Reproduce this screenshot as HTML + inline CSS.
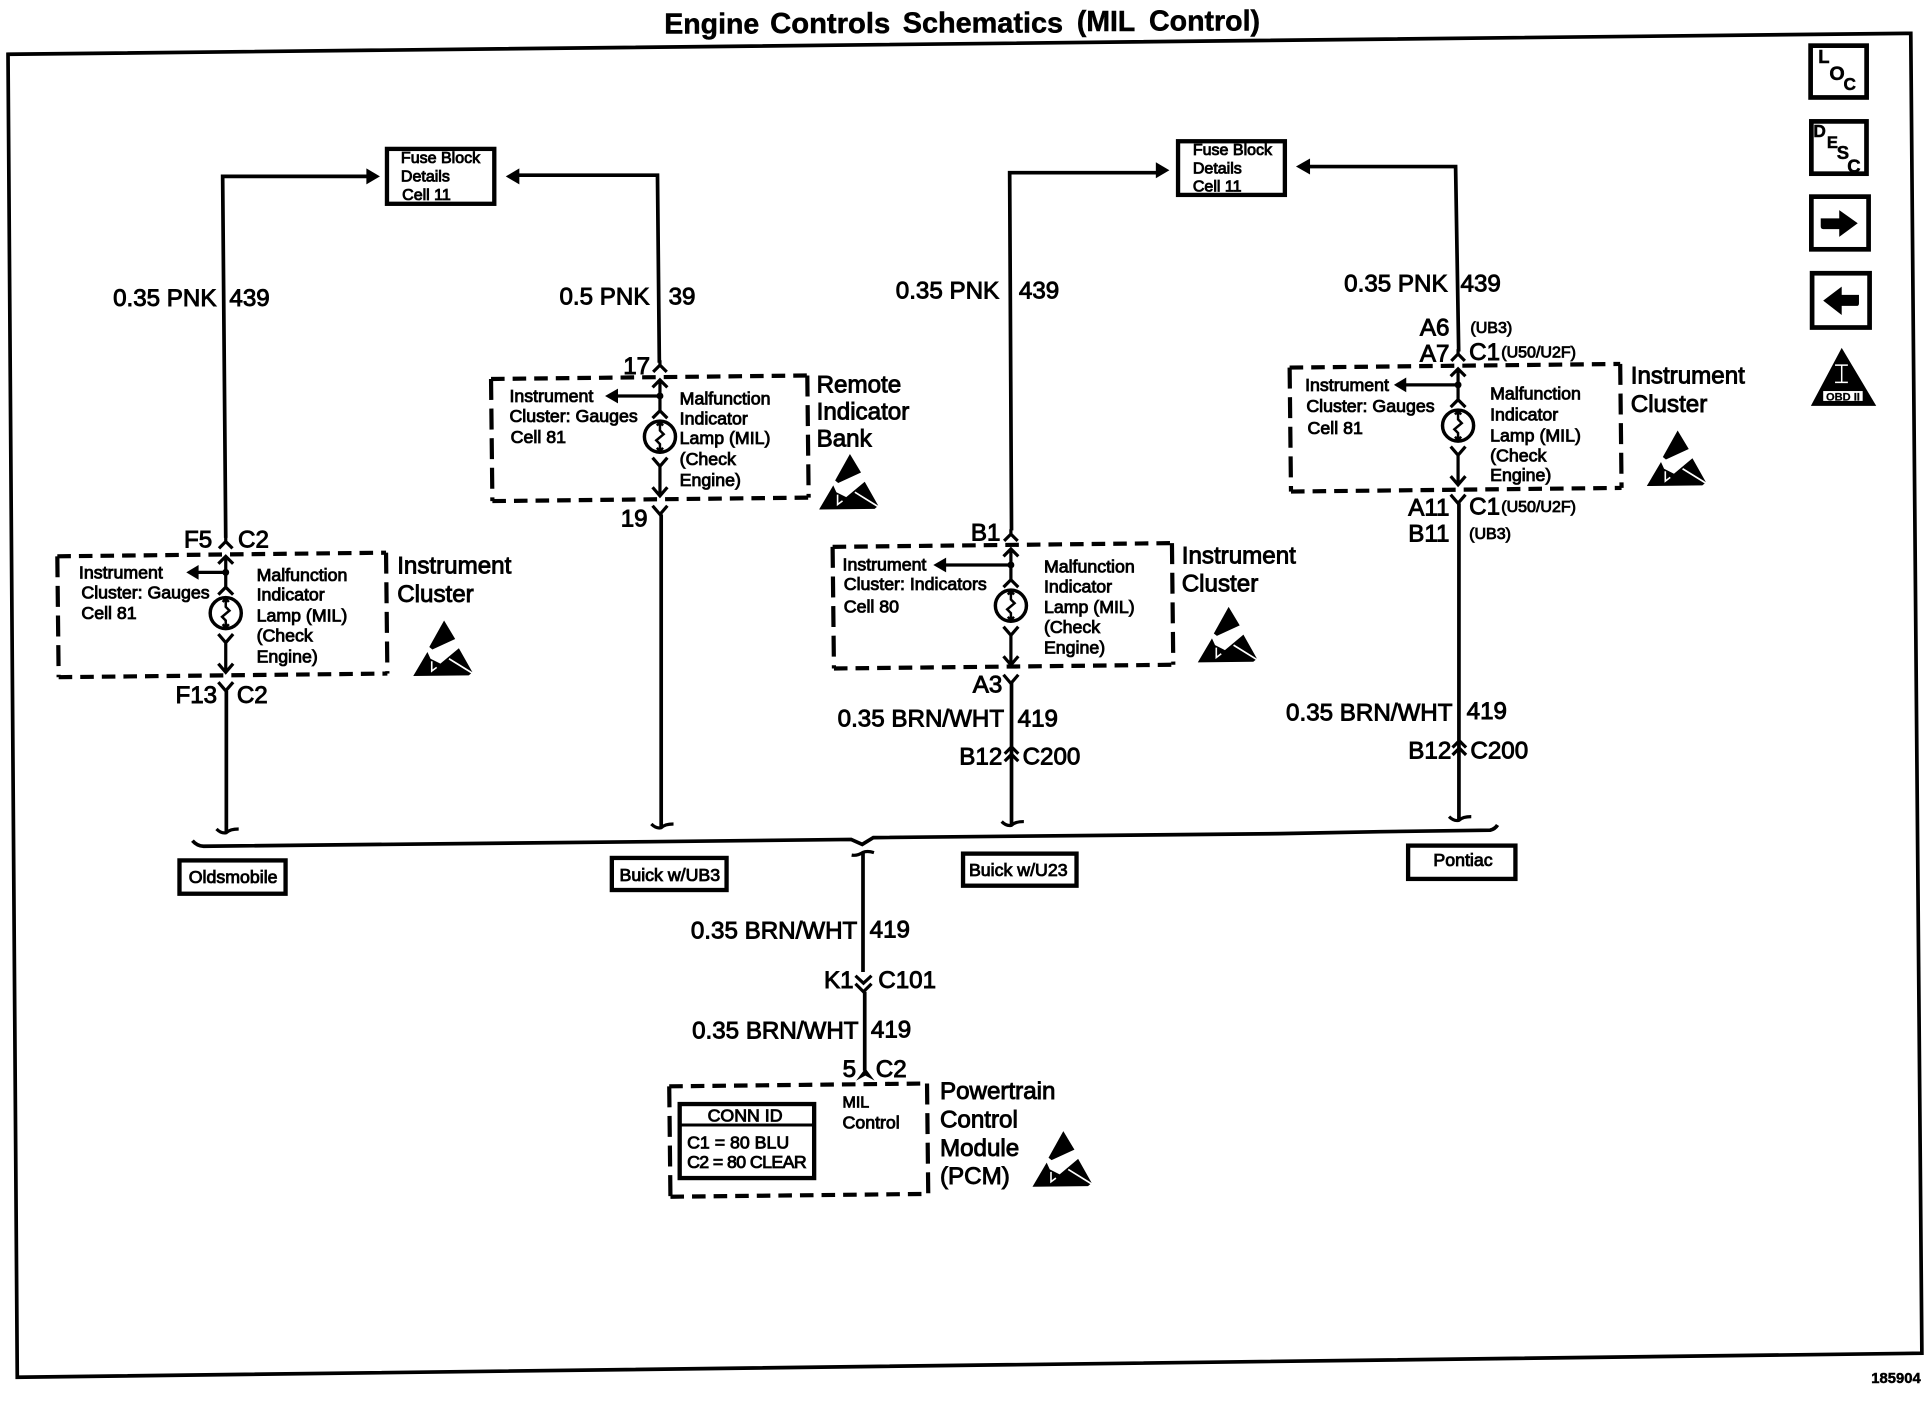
<!DOCTYPE html>
<html><head><meta charset="utf-8"><style>
html,body{margin:0;padding:0;background:#fff}
svg{display:block}
text{font-family:"Liberation Sans",sans-serif;fill:#000;stroke:#000;stroke-width:.7}
.l{font-size:19.6px;stroke-width:.75}.s{font-size:14.4px}.f{font-size:13px}.t{font-size:13px}
.e{text-anchor:end}.m{text-anchor:middle}
.i{font-weight:700;stroke-width:.4}
.w{fill:none;stroke:#000;stroke-width:3}
.c{fill:none;stroke:#000;stroke-width:2.6}
.dh{fill:none;stroke:#000;stroke-width:3.4;stroke-dasharray:11 6.5}
.dv{fill:none;stroke:#000;stroke-width:3.4;stroke-dasharray:17 7}
.b{fill:#fff;stroke:#000;stroke-width:3.5}
</style></head><body>
<svg width="1932" height="1408" viewBox="0 0 1566.2 1141.4" xmlns="http://www.w3.org/2000/svg">
<defs>
<g id="core">
<path class="c" d="M-5.5,-4.5L0,-10L5.5,-4.5M0,-10V-14"/>
<path class="c" d="M-6,8L0,2L6,8M0,2V27M-6,33L0,27L6,33"/>
<circle cx="0" cy="15" r="2.8"/>
<circle cx="0" cy="48" r="12.6" fill="none" stroke="#000" stroke-width="2.8"/>
<path fill="none" stroke="#000" stroke-width="2" d="M0,36V43L3,46L-3,51L0,54V60M-2.5,39L0,36L2.5,39M-2.5,57L0,60L2.5,57"/>
<path class="c" d="M-6,65L0,72L6,65M0,72V96M-6,89L0,96L6,89"/>
<path class="c" d="M-6,104L0,111L6,104"/>
</g>
<g id="esd">
<path d="M0,0L9,15L-9.5,23.5L-12,21.5Z"/>
<path d="M-25,45L-13.5,25.5L-11,31L-3,35L12,22.5L23,42L20,44.5Z"/>
<path d="M4,31L25,44" stroke="#fff" stroke-width="1.4"/>
<path d="M-10,33L-10,41L-6,38" stroke="#fff" stroke-width="1.3" fill="none"/>
</g>
<path id="hook" class="c" d="M-8,-3Q-4,1 0,0Q3,-3 10,-3"/>
</defs>

<!-- frame -->
<path fill="none" stroke="#000" stroke-width="3" d="M6.5,44L1549,27L1558,1097L14,1116.5Z"/>
<text x="538.5" y="27.3" font-size="23" class="i" textLength="77" lengthAdjust="spacingAndGlyphs">Engine</text>
<text x="624.3" y="26.9" font-size="23" class="i" textLength="97.4" lengthAdjust="spacingAndGlyphs">Controls</text>
<text x="731.8" y="26.2" font-size="23" class="i" textLength="130" lengthAdjust="spacingAndGlyphs">Schematics</text>
<text x="873" y="25.3" font-size="23" class="i" textLength="47.3" lengthAdjust="spacingAndGlyphs">(MIL</text>
<text x="931.5" y="24.9" font-size="23" class="i" textLength="90" lengthAdjust="spacingAndGlyphs">Control)</text>

<!-- fuse blocks -->
<rect x="313.7" y="120.7" width="87" height="44.5" class="b"/>
<text class="f" x="325" y="132">Fuse Block</text><text class="f" x="325" y="147">Details</text><text class="f" x="326" y="162">Cell 11</text>
<rect x="955" y="114.5" width="86.6" height="43.5" class="b"/>
<text class="f" x="967" y="125.7">Fuse Block</text><text class="f" x="967" y="140.5">Details</text><text class="f" x="967" y="155.4">Cell 11</text>

<!-- wires -->
<path class="w" d="M183,436L180.5,143H300"/><path d="M308,143L297,136.5V149.5Z"/>
<path class="w" d="M534.5,294L533,142H418"/><path d="M410,143L421,136.5V149.5Z"/>
<path class="w" d="M820,430L818.5,140H940"/><path d="M948,138L937,131.5V144.5Z"/>
<path class="w" d="M1182.5,285L1180,135H1060"/><path d="M1050.6,135L1062,128.5V141.5Z"/>
<path class="w" d="M183.5,560V675"/><path class="w" d="M536,417V671"/>
<path class="w" d="M820,553V669"/><path class="w" d="M1182.7,408V665"/>
<use href="#hook" x="183.5" y="675"/><use href="#hook" x="536" y="671"/>
<use href="#hook" x="820" y="669"/><use href="#hook" x="1182.7" y="665"/>

<!-- bus -->
<path class="w" d="M156,681.5Q160,686 165,686L527,682.3L690,680.5L699,684.5L708,679L1037.6,675.8L1119,674.2L1208,673Q1212,672 1214,668.8"/>
<path class="w" d="M699.6,691V788M701,804V868"/>
<path class="c" d="M690.4,693.2Q695,694 699.6,691Q703,689.5 708.5,691.2"/>
<path class="c" d="M693.5,791L700,797L706.5,791M693.5,797.5L700,804L706.5,797.5"/>
<path d="M694,876L701.5,866L709,876L701.5,872Z"/>

<!-- chevrons C200 -->
<path class="c" d="M814.5,611L820,605.5L825.5,611M814.5,617L820,611.5L825.5,617"/>
<path class="c" d="M1177.5,606L1183,600.5L1188.5,606M1177.5,612L1183,606.5L1188.5,612"/>

<!-- modules -->
<use href="#core" x="183" y="449"/>
<use href="#core" x="535" y="306"/>
<use href="#core" x="819.5" y="443"/>
<use href="#core" x="1182" y="297"/>
<path class="c" d="M183,464H158" stroke-width="3"/><path d="M151,464L161,458V470Z"/>
<path class="c" d="M535,321H498" stroke-width="3"/><path d="M490.5,321L501,315V327Z"/>
<path class="c" d="M819.5,458H764" stroke-width="3"/><path d="M756.6,458L767,452V464Z"/>
<path class="c" d="M1182,312H1137" stroke-width="3"/><path d="M1130,312L1140,306V318Z"/>
<g transform="rotate(-.63 180 498.5)"><path class="dh" d="M47,449.5H313.5M47,547.5H313.5"/><path class="dv" d="M47,449.5V547.5M313.5,449.5V547.5"/></g>
<g transform="rotate(-.63 527 355)"><path class="dh" d="M398.6,305.8H655M398.6,404.8H655"/><path class="dv" d="M398.6,305.8V404.8M655,305.8V404.8"/></g>
<g transform="rotate(-.63 813 491)"><path class="dh" d="M675.5,441.8H950.6M675.5,540.4H950.6"/><path class="dv" d="M675.5,441.8V540.4M950.6,441.8V540.4"/></g>
<g transform="rotate(-.63 1180 347)"><path class="dh" d="M1046,296.5H1314M1046,397H1314"/><path class="dv" d="M1046,296.5V397M1314,296.5V397"/></g>
<g transform="rotate(-.63 647 924)"><path class="dh" d="M543,879.5H752M543,969H752"/><path class="dv" d="M543,879.5V969M752,879.5V969"/></g>

<!-- Oldsmobile module text -->
<text class="s" x="64" y="469">Instrument</text><text class="s" x="66" y="485">Cluster:  Gauges</text><text class="s" x="66" y="502">Cell 81</text>
<text class="s" x="208" y="471">Malfunction</text><text class="s" x="208" y="487">Indicator</text><text class="s" x="208" y="504">Lamp (MIL)</text><text class="s" x="208" y="520">(Check</text><text class="s" x="208" y="537">Engine)</text>
<text class="l" x="322" y="465">Instrument</text><text class="l" x="322" y="488">Cluster</text>
<!-- Remote -->
<text class="s" x="413" y="326">Instrument</text><text class="s" x="413" y="342">Cluster:  Gauges</text><text class="s" x="414" y="359">Cell 81</text>
<text class="s" x="551" y="328">Malfunction</text><text class="s" x="551" y="344">Indicator</text><text class="s" x="551" y="360">Lamp (MIL)</text><text class="s" x="551" y="377">(Check</text><text class="s" x="551" y="394">Engine)</text>
<text class="l" x="662" y="318">Remote</text><text class="l" x="662" y="340">Indicator</text><text class="l" x="662" y="362">Bank</text>
<!-- U23 -->
<text class="s" x="683" y="462.6">Instrument</text><text class="s" x="684" y="478.3">Cluster:  Indicators</text><text class="s" x="684" y="496.7">Cell 80</text>
<text class="s" x="846.3" y="464">Malfunction</text><text class="s" x="846.3" y="480.5">Indicator</text><text class="s" x="846.3" y="497">Lamp (MIL)</text><text class="s" x="846.3" y="513.3">(Check</text><text class="s" x="846.3" y="529.7">Engine)</text>
<text class="l" x="958" y="456.7">Instrument</text><text class="l" x="958" y="479.6">Cluster</text>
<!-- Pontiac -->
<text class="s" x="1058" y="317">Instrument</text><text class="s" x="1059" y="334">Cluster:  Gauges</text><text class="s" x="1060" y="352">Cell 81</text>
<text class="s" x="1208" y="324">Malfunction</text><text class="s" x="1208" y="341">Indicator</text><text class="s" x="1208" y="358">Lamp (MIL)</text><text class="s" x="1208" y="374">(Check</text><text class="s" x="1208" y="390">Engine)</text>
<text class="l" x="1322" y="311">Instrument</text><text class="l" x="1322" y="334">Cluster</text>

<!-- ESD -->
<use href="#esd" x="360" y="503"/><use href="#esd" x="689" y="368"/><use href="#esd" x="996" y="492"/><use href="#esd" x="1360" y="349"/><use href="#esd" x="862" y="917"/>

<!-- wire labels -->
<text class="l e" x="175.5" y="248">0.35 PNK</text><text class="l" x="186" y="248">439</text>
<text class="l e" x="526.5" y="247">0.5 PNK</text><text class="l" x="542" y="247">39</text>
<text class="l e" x="810" y="242">0.35 PNK</text><text class="l" x="826" y="242">439</text>
<text class="l e" x="1173.5" y="236.5">0.35 PNK</text><text class="l" x="1184" y="236.5">439</text>
<text class="l e" x="172" y="444">F5</text><text class="l" x="193" y="444">C2</text>
<text class="l e" x="176" y="570">F13</text><text class="l" x="192" y="570">C2</text>
<text class="l e" x="527" y="303">17</text><text class="l e" x="525" y="427">19</text>
<text class="l e" x="811" y="438.3">B1</text><text class="l e" x="812.5" y="561.5">A3</text>
<text class="l e" x="814" y="589">0.35 BRN/WHT</text><text class="l" x="825" y="589">419</text>
<text class="l e" x="812.5" y="619.6">B12</text><text class="l" x="829" y="619.6">C200</text>
<text class="l e" x="1177.5" y="584">0.35 BRN/WHT</text><text class="l" x="1189" y="583">419</text>
<text class="l e" x="1176.5" y="615">B12</text><text class="l" x="1192" y="615">C200</text>
<text class="l e" x="1175" y="272">A6</text><text class="t" x="1192" y="270">(UB3)</text>
<text class="l e" x="1175" y="293">A7</text><text class="l" x="1191" y="292">C1</text><text class="t" x="1217" y="290">(U50/U2F)</text>
<text class="l e" x="1175" y="418">A11</text><text class="l" x="1191" y="417">C1</text><text class="t" x="1217" y="415">(U50/U2F)</text>
<text class="l e" x="1175" y="439">B11</text><text class="t" x="1191" y="437">(UB3)</text>
<text class="l e" x="695" y="761">0.35 BRN/WHT</text><text class="l" x="705" y="760">419</text>
<text class="l e" x="692" y="801">K1</text><text class="l" x="712" y="801">C101</text>
<text class="l e" x="696" y="842">0.35 BRN/WHT</text><text class="l" x="706" y="841">419</text>
<text class="l e" x="694" y="873">5</text><text class="l" x="710" y="873">C2</text>

<!-- option boxes -->
<rect x="145.5" y="697.5" width="86" height="27" class="b"/><text class="s m" x="189" y="716">Oldsmobile</text>
<rect x="496" y="695.5" width="93" height="26" class="b"/><text class="s m" x="543" y="714">Buick w/UB3</text>
<rect x="780.7" y="692" width="92" height="26" class="b"/><text class="s m" x="825.5" y="710">Buick w/U23</text>
<rect x="1141.5" y="685.5" width="87" height="27" class="b"/><text class="s m" x="1186" y="702">Pontiac</text>

<!-- PCM -->
<rect x="551" y="895" width="109" height="60" class="b"/><path d="M551,912H660" stroke="#000" stroke-width="2.4"/>
<text class="s m" x="604" y="909">CONN ID</text>
<text class="s" x="557" y="931">C1 = 80 BLU</text><text class="s" x="557" y="947" textLength="97">C2 = 80 CLEAR</text>
<text class="f" x="683" y="898">MIL</text><text class="s" x="683" y="915">Control</text>
<text class="l" x="762" y="891">Powertrain</text><text class="l" x="762" y="914">Control</text><text class="l" x="762" y="937">Module</text><text class="l" x="762" y="960">(PCM)</text>

<!-- side icons -->
<rect x="1467.8" y="37" width="45.4" height="42" fill="#fff" stroke="#000" stroke-width="3.8"/>
<text x="1474" y="51" font-size="15" class="i">L</text><text x="1483" y="65" font-size="16" class="i">O</text><text x="1494.5" y="73" font-size="14" class="i">C</text>
<rect x="1468.4" y="98.4" width="44.7" height="42.4" fill="#fff" stroke="#000" stroke-width="3.8"/>
<text x="1470" y="111" font-size="14" class="i">D</text><text x="1481" y="120" font-size="13.5" class="i">E</text><text x="1489" y="129" font-size="15" class="i">S</text><text x="1497.5" y="140" font-size="15" class="i">C</text>
<rect x="1468.4" y="159.4" width="46.4" height="42.7" fill="#fff" stroke="#000" stroke-width="3.8"/>
<path d="M1476,177H1491V170.3L1506,181L1491,192V185.7H1478Q1476,185.7 1476,183.5Z"/>
<rect x="1469" y="221.5" width="46.6" height="44" fill="#fff" stroke="#000" stroke-width="3.8"/>
<path d="M1507,239H1493V232.4L1478,243.7L1493,255.4V248H1505Q1507,248 1507,246Z"/>
<path d="M1493,282L1521,329H1468Z"/>
<path d="M1487.6,296H1498M1487.6,310H1498M1493,296V310" stroke="#fff" stroke-width="1.2" fill="none"/>
<rect x="1478" y="317" width="32" height="8" fill="#fff"/>
<text x="1494" y="324.6" font-size="9" class="m i" style="stroke-width:.2">OBD II</text>

<text x="1517" y="1121" font-size="12" class="i" style="stroke-width:.4">185904</text>
</svg>
</body></html>
